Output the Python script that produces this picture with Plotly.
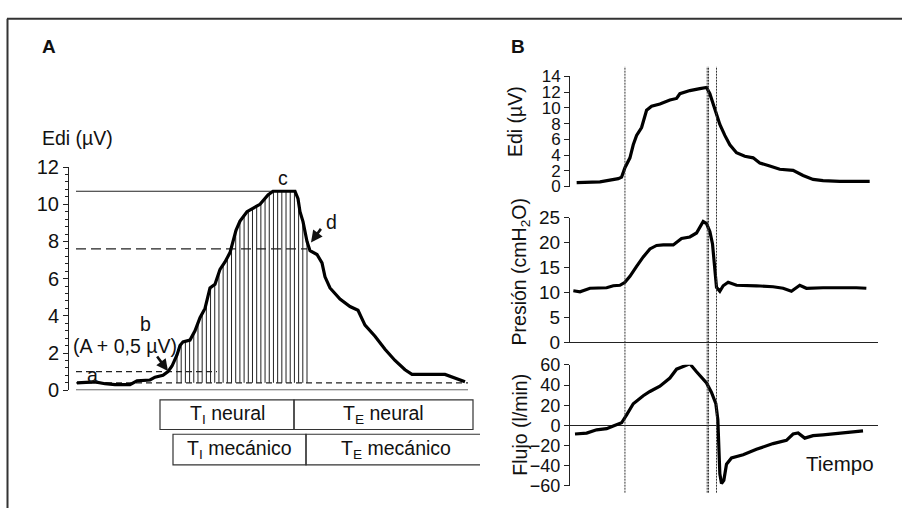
import numpy as np
import plotly.graph_objects as go

W, H = 902, 519
FONT = "Liberation Sans, Arial, Helvetica, sans-serif"

# ---------------- Panel A data (time in arbitrary units) ----------------
tA = [1, 9, 19, 29, 39, 54, 61, 74, 79, 87, 92, 96, 101, 104, 107, 114, 119, 124,
      129, 134, 139, 144, 149, 154, 157, 160, 164, 171, 184, 192, 197, 205, 219,
      222, 224, 227, 231, 234, 241, 246, 249, 254, 264, 274, 282, 289, 299, 309,
      319, 329, 336, 369, 376, 382, 389]
ediA = [0.4, 0.42, 0.45, 0.35, 0.3, 0.3, 0.5, 0.55, 0.7, 0.8, 1.0, 1.3, 1.9, 2.4,
        2.6, 2.7, 3.2, 3.9, 4.4, 5.5, 5.7, 6.5, 6.9, 7.4, 8.0, 8.6, 9.1, 9.6, 10.0,
        10.5, 10.7, 10.7, 10.7, 10.3, 9.6, 9.07, 8.0, 7.5, 7.3, 6.85, 6.1, 5.5, 4.9,
        4.5, 4.3, 3.5, 2.9, 2.2, 1.6, 1.1, 0.85, 0.85, 0.7, 0.6, 0.45]

# reference levels (µV) and where each reference line ends (time)
ref_levels = [10.7, 7.6, 1.0, 0.4]
ref_ends = [197, 231, 141, 392]
ref_dash = ["solid", "10px,5px", "6px,4px", "6px,4px"]
ref_start = 0
base_end = 392          # end of zero baseline
hatch_start, hatch_end = 101, 231   # inspiration area (b -> d)

# phases boxes (time)
neural_bounds = [84, 218, 397]
mech_bounds = [97, 230, 409]

# ---------------- Panel B data ----------------
tB_edi = [20, 90, 145, 155, 165, 180, 190, 200, 215, 225, 230, 245, 270, 300, 320,
          330, 360, 390, 410, 420, 430, 440, 450, 465, 480, 500, 525, 550, 570, 600,
          630, 670, 700, 730, 760, 810, 900]
ediB = [0.5, 0.6, 1.0, 1.2, 2.4, 3.65, 5.3, 6.5, 7.5, 8.9, 9.7, 10.2, 10.5, 11.0,
        11.2, 11.8, 12.2, 12.45, 12.6, 11.8, 10.5, 9.1, 7.9, 6.5, 5.3, 4.3, 3.85,
        3.65, 3.0, 2.6, 2.2, 2.05, 1.4, 0.9, 0.75, 0.65, 0.65]

tB_pres = [10, 30, 60, 110, 130, 150, 165, 180, 200, 220, 240, 260, 280, 310, 335,
           360, 380, 400, 410, 420, 428, 435, 440, 450, 460, 475, 500, 560, 610,
           640, 665, 690, 710, 760, 810, 840, 860, 890]
pres = [10.3, 10.1, 10.8, 10.9, 11.3, 11.4, 12.0, 13.2, 15.2, 17.1, 18.7, 19.4,
        19.5, 19.5, 20.8, 21.1, 21.9, 24.2, 23.8, 22.2, 19.7, 14.6, 11.0, 10.2,
        11.3, 12.0, 11.4, 11.3, 11.1, 10.8, 10.2, 11.4, 10.8, 10.9, 10.8, 10.9,
        10.9, 10.8]

tB_flow = [15, 50, 80, 110, 130, 155, 170, 190, 220, 240, 270, 300, 320, 340, 360,
           380, 410, 425, 438, 444, 447, 450, 455, 462, 470, 485, 520, 560, 610,
           650, 670, 685, 705, 730, 760, 810, 850, 880]
flow = [-8.5, -7.6, -4.4, -3.2, -0.6, 2.6, 10.4, 21.5, 29.4, 33.6, 38.9, 46.9,
        55.7, 57.9, 61.0, 53.1, 42.1, 32.6, 21.5, 5.7, -16.4, -48.0, -57.5, -54.4,
        -38.5, -32.3, -29.0, -23.7, -18.0, -14.8, -8.5, -7.5, -12.6, -10.1, -9.3,
        -7.6, -6.2, -5.5]

vlines_B = [165, 412, 416, 440]   # phase markers (time)
flow_ticks = [-60, -40, -20, 0, 20, 40, 60]


def px(x):
    return x / W


def py(y):
    return 1 - y / H


fig = go.Figure()

# ---------------- Panel A ----------------
hx = np.arange(hatch_start, hatch_end + 0.01, (hatch_end - hatch_start) / 31)
hy = np.interp(hx, tA, ediA)
xs, ys = [], []
for a, b in zip(hx, hy):
    xs += [a, a, None]
    ys += [ref_levels[3], b, None]
fig.add_trace(go.Scatter(x=xs, y=ys, mode="lines", line=dict(color="#222", width=1),
                         xaxis="x", yaxis="y", hoverinfo="skip"))

for lv, e, d in zip(ref_levels, ref_ends, ref_dash):
    fig.add_trace(go.Scatter(x=[ref_start, e], y=[lv, lv], mode="lines",
                             line=dict(color="#222", width=1.2, dash=d),
                             xaxis="x", yaxis="y"))
fig.add_trace(go.Scatter(x=[ref_start, base_end], y=[0, 0], mode="lines",
                         line=dict(color="#222", width=1.2), xaxis="x", yaxis="y"))

fig.add_trace(go.Scatter(x=tA, y=ediA, mode="lines", line=dict(color="black", width=3.2),
                         xaxis="x", yaxis="y"))

# ---------------- Panel B ----------------
fig.add_trace(go.Scatter(x=tB_edi, y=ediB, mode="lines", line=dict(color="black", width=3.2),
                         xaxis="x2", yaxis="y2"))
fig.add_trace(go.Scatter(x=tB_pres, y=pres, mode="lines", line=dict(color="black", width=3.2),
                         xaxis="x3", yaxis="y3"))
fig.add_trace(go.Scatter(x=tB_flow, y=flow, mode="lines", line=dict(color="black", width=3.2),
                         xaxis="x4", yaxis="y4"))


def yax(size):
    return dict(showline=True, linecolor="#222", linewidth=1, ticks="outside", ticklen=5,
                tickcolor="#222", showgrid=False, fixedrange=True,
                tickfont=dict(family=FONT, size=size, color="#111"))


hidden_x = dict(visible=False, showgrid=False, zeroline=False)

xB_dom = [px(570), px(878)]
xB_range = [0, 925]

fig.update_layout(
    width=W, height=H, margin=dict(l=0, r=0, t=0, b=0),
    paper_bgcolor="white", plot_bgcolor="rgba(0,0,0,0)",
    showlegend=False, font=dict(family=FONT, color="#111"),
    xaxis=dict(domain=[px(68), px(480)], range=[-8, 404], **hidden_x),
    yaxis=dict(domain=[py(396), py(163)], range=[0, 12], dtick=2, anchor="free",
               position=px(68), zeroline=False,
               minor=dict(dtick=0.4, ticks="outside", ticklen=3, tickcolor="#222"),
               **yax(20)),
    xaxis2=dict(domain=xB_dom, range=xB_range, anchor="y2", **hidden_x),
    yaxis2=dict(domain=[py(183.3), py(68.3)], range=[0, 14], dtick=2, anchor="x2",
                zeroline=False, **yax(17)),
    xaxis3=dict(domain=xB_dom, range=xB_range, anchor="y3", visible=True, showline=True,
                linecolor="#222", linewidth=1, showticklabels=False, ticks="",
                showgrid=False, zeroline=False),
    yaxis3=dict(domain=[py(345.7), py(215.7)], range=[0, 25], dtick=5, anchor="x3",
                zeroline=False, **yax(19)),
    xaxis4=dict(domain=xB_dom, range=xB_range, anchor="y4", **hidden_x),
    yaxis4=dict(domain=[py(496), py(369.5)], range=[-60, 60], anchor="x4",
                tickvals=flow_ticks,
                ticktext=[str(v).replace("-", "\u2212") for v in flow_ticks],
                zeroline=True, zerolinecolor="#222", zerolinewidth=1, **yax(18)),
)

shapes = []
shapes.append(dict(type="line", xref="paper", yref="paper", x0=px(7), x1=1, y0=py(8), y1=py(8),
                   line=dict(color="#333", width=2)))
shapes.append(dict(type="line", xref="paper", yref="paper", x0=px(7.5), x1=px(7.5), y0=py(8), y1=0,
                   line=dict(color="#333", width=2)))
for v in vlines_B:
    shapes.append(dict(type="line", xref="x2", yref="paper", x0=v, x1=v, y0=py(503), y1=py(58),
                       line=dict(color="#333", width=1, dash="2px,1px")))
for bounds, y0, y1 in [(neural_bounds, 406, 437), (mech_bounds, 442, 474)]:
    for a, b in zip(bounds[:-1], bounds[1:]):
        shapes.append(dict(type="rect", xref="x", yref="paper", x0=a, x1=b,
                           y0=py(y1), y1=py(y0), line=dict(color="#333", width=1.2)))
fig.update_layout(shapes=shapes)

ann = []
def txt(x, y, s, xref="paper", yref="paper", size=19.5, bold=False, angle=0, xanchor="center"):
    ann.append(dict(x=x, y=y, xref=xref, yref=yref, text=f"<b>{s}</b>" if bold else s,
                    showarrow=False, textangle=angle, xanchor=xanchor, yanchor="middle",
                    font=dict(family=FONT, size=size, color="#111")))

txt(px(49), py(37), "A", bold=True, size=19)
txt(px(518), py(37), "B", bold=True, size=19)
txt(px(40), py(133), "Edi (µV)", xanchor="left")
for bounds, yc, words in [(neural_bounds, 421.5, ["T<sub>I</sub> neural", "T<sub>E</sub> neural"]),
                          (mech_bounds, 458, ["T<sub>I</sub> mecánico", "T<sub>E</sub> mecánico"])]:
    for a, b, w in zip(bounds[:-1], bounds[1:], words):
        ann.append(dict(x=(a + b) / 2, y=py(yc), xref="x", yref="paper", text=w, showarrow=False,
                        xanchor="center", yanchor="middle",
                        font=dict(family=FONT, size=19.5, color="#111")))
txt(16, 0.82, "a", xref="x", yref="y")
txt(69, 3.55, "b", xref="x", yref="y")
txt(48.5, 2.37, "(A + 0,5 µV)", xref="x", yref="y")
txt(207, 11.44, "c", xref="x", yref="y")
txt(255, 9.07, "d", xref="x", yref="y")
ann.append(dict(x=92, y=1.03, xref="x", yref="y", ax=-12, ay=-16, showarrow=True, arrowhead=2,
                arrowsize=0.9, arrowwidth=2.6, arrowcolor="#111", text=""))
ann.append(dict(x=235, y=7.95, xref="x", yref="y", ax=11, ay=-15, showarrow=True, arrowhead=2,
                arrowsize=0.9, arrowwidth=2.6, arrowcolor="#111", text=""))
txt(px(515), py(116), "Edi (µV)", angle=-90)
txt(px(520), py(273), "Presión (cmH<sub>2</sub>O)", angle=-90)
txt(px(520), py(432), "Flujo (l/min)", angle=-90)
txt(px(840), py(473), "Tiempo", size=20.5)
fig.update_layout(annotations=ann)

fig.write_html("out.html")
